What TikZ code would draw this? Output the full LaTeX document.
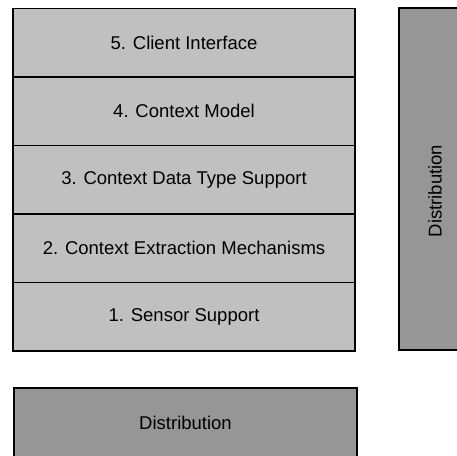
\documentclass[tikz,border=0pt]{standalone}
\usepackage{fontspec}
\setmainfont{Liberation Sans}
\usetikzlibrary{positioning,calc}
\definecolor{layergray}{RGB}{192,192,192}
\definecolor{distgray}{RGB}{150,150,150}

\begin{document}
\begin{tikzpicture}[
  x=1pt, y=-1pt,
  node distance=0pt,
  layer/.style={rectangle, draw=black, line width=1.5pt, fill=layergray, minimum width=342pt, minimum height=68.5pt, outer sep=0pt, inner sep=0pt, font=\fontsize{18.5}{22}\selectfont},
  distbox/.style={rectangle, draw=black, line width=1.5pt, fill=distgray, outer sep=0pt, inner sep=0pt, font=\fontsize{18.5}{22}\selectfont},
  lbl/.style={font=\fontsize{18.5}{22}\selectfont, inner sep=0pt}
]
\useasboundingbox (0,0) rectangle (457,455);
\clip (0,0) rectangle (457,455);

% layer stack
\node[layer] (client) at (184,42.5) {5. Client Interface};
\node[layer, below=of client] (model) {4. Context Model};
\node[layer, below=of model] (datatype) {3. Context Data Type Support};
\node[layer, below=of datatype] (extract) {2. Context Extraction Mechanisms};
\node[layer, below=of extract] (sensor) {1. Sensor Support};

% distribution, vertical and horizontal
\node[distbox, minimum width=72pt, minimum height=342pt, anchor=north west] (distv) at (399,8) {};
\node[lbl, rotate=90] (distvtext) at ($(distv.center)+(0,12)$) {Distribution};
\node[distbox, minimum width=343pt, minimum height=70pt, anchor=north west] (disth) at (14,388) {Distribution};

\end{tikzpicture}
\end{document}
